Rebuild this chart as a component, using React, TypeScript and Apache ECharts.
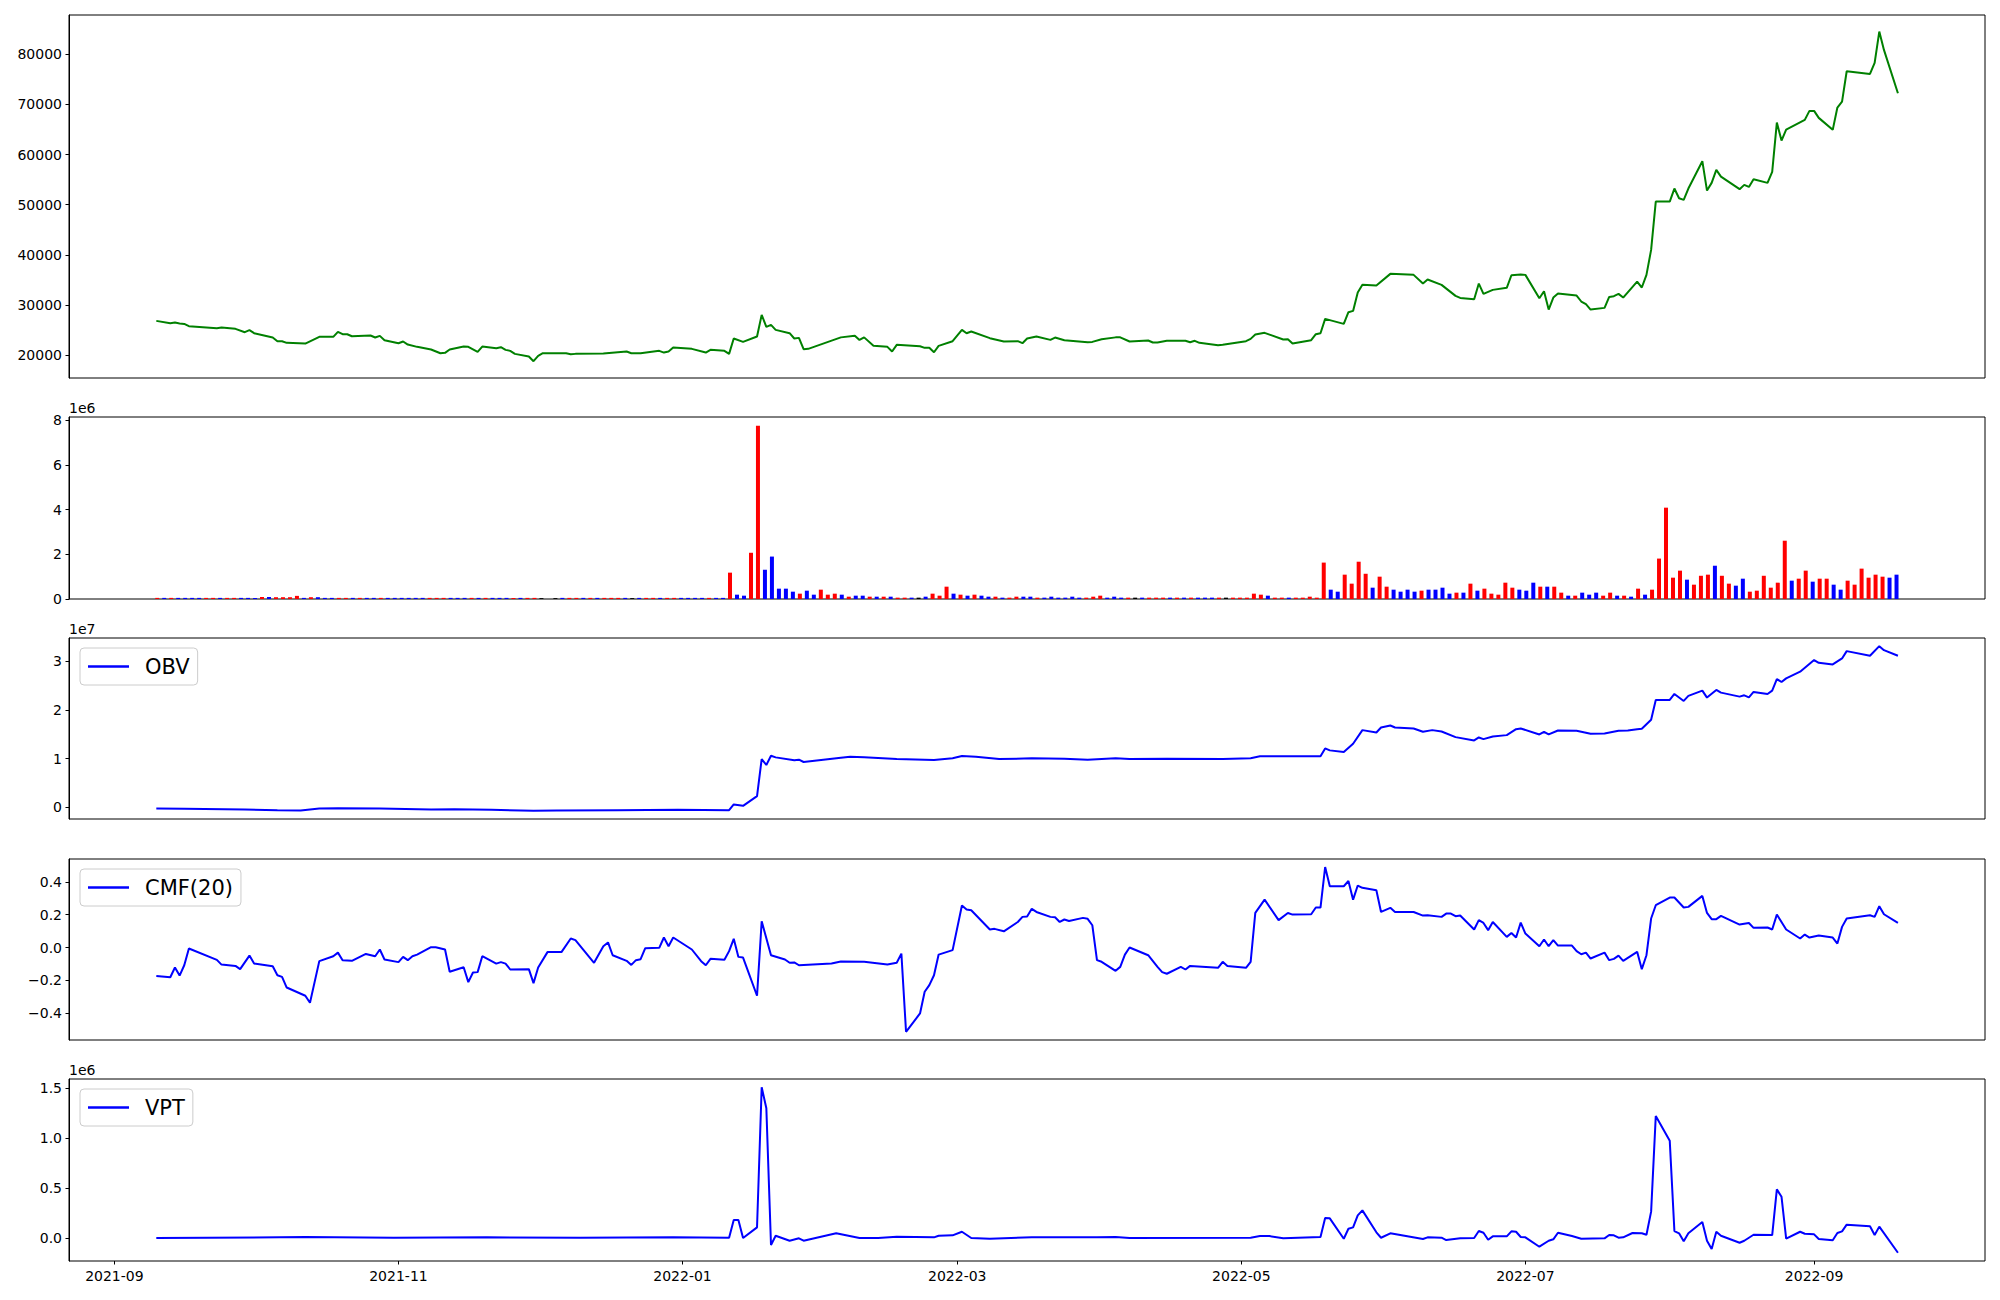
import React, { useEffect, useRef } from "react";
import * as echarts from "echarts";

// x positions are "days since 2021-09-01"
const xTickDay = [0, 61, 122, 181, 242, 303, 365];
const xTickLabel = ["2021-09", "2021-11", "2022-01", "2022-03", "2022-05", "2022-07", "2022-09"];

const priceDay = [9,12,13,14,15,16,22,23,26,28,29,30,34,35,36,37,41,44,47,48,49,50,51,55,56,57,58,61,62,63,65,68,70,71,72,75,76,78,79,82,83,84,85,86,89,90,91,92,97,98,99,105,110,111,113,117,118,119,120,124,127,128,131,132,133,135,138,139,140,141,142,145,146,147,148,149,156,159,160,161,163,166,167,168,173,174,175,176,177,180,182,183,184,188,191,194,195,196,198,201,202,204,209,210,212,215,216,218,222,223,224,226,230,231,232,233,237,238,243,244,245,247,251,252,253,257,258,259,260,264,265,266,267,268,271,274,279,281,282,285,288,289,292,293,294,296,299,300,302,303,306,307,308,309,310,314,315,316,317,320,321,322,323,324,327,328,329,330,331,334,335,336,337,338,341,342,343,344,345,349,350,351,352,355,356,357,358,359,363,364,365,366,369,370,371,372,377,378,379,380,383];
const priceValue = [26840,26370,26500,26310,26240,25790,25380,25510,25250,24580,24980,24380,23520,22790,22790,22460,22320,23650,23650,24650,24180,24180,23780,23920,23520,23850,22990,22390,22720,22120,21660,21130,20390,20460,21130,21720,21660,20660,21720,21390,21590,21060,20860,20260,19730,18800,19870,20390,20390,20190,20260,20330,20720,20390,20390,20860,20520,20730,21520,21260,20530,21060,20860,20260,23320,22650,23720,28035,25640,26040,25045,24380,23320,23450,21190,21260,23550,23890,23030,23550,21890,21660,20730,22060,21790,21460,21460,20590,21860,22790,25050,24380,24710,23390,22720,22790,22390,23320,23720,23050,23520,22990,22590,22650,23180,23550,23550,22720,22920,22520,22520,22860,22860,22590,22860,22460,21990,22060,22790,23250,24120,24450,23120,23180,22320,22990,24180,24380,27240,26240,28570,28830,32490,34020,33880,36210,36010,34280,35080,34020,31820,31420,31160,34280,32220,33020,33420,35940,36080,36010,31360,32750,29100,31490,32290,31890,30700,30170,29100,29430,31620,31760,32220,31490,34680,33490,36010,40990,50630,50630,53220,51290,50960,53220,58670,52820,54350,56940,55610,53090,53950,53550,55080,54350,56540,66380,62790,64980,66910,68700,68700,67310,64920,69370,70560,76610,76080,78270,84520,80860,72220];

// volume bars: evenly spaced from the first to the last day
const volumeFirstDay = 9.2;
const volumeStepDays = 1.5;
const volumeThousands = [
50,50,50,50,50,50,50,50,50,50,
50,50,50,50,50,90,90,80,80,80,
140,50,80,80,50,50,50,50,50,50,
50,50,50,50,50,50,50,50,50,50,
50,50,50,50,50,50,50,50,50,50,
50,50,50,50,50,40,0,40,50,50,
50,50,50,50,50,50,50,50,40,50,
50,50,50,50,50,50,50,50,50,50,
50,50,1180,194,149,2070,7760,1310,1900,463,
463,328,239,373,194,418,194,239,194,104,
149,149,104,104,104,104,60,60,60,60,
104,239,149,552,239,194,149,194,149,104,
104,60,60,104,104,104,60,60,104,60,
60,104,60,60,104,149,60,104,60,60,
60,60,60,60,60,60,60,60,60,60,
60,60,60,60,60,60,60,239,194,149,
60,60,60,60,60,104,60,1630,418,328,
1090,687,1670,1130,507,1000,552,418,328,418,
328,373,418,418,507,239,284,284,687,373,
463,239,194,731,507,418,373,731,552,552,
552,284,149,149,284,194,284,149,284,149,
149,104,463,194,418,1810,4090,955,1270,866,
642,1040,1090,1490,1040,687,597,910,328,373,
1040,507,731,2610,821,910,1270,776,910,910,
642,418,821,642,1360,955,1090,1000,955,1090];
const volumeDir =
  "rbrbbbbrrb" + "rrbbbrbrrr" + "rbrbbbrrbr" + "bbrbbbbbbr" + "rrbbbrbrbb" +
  "brbrrkkkbr" + "rbrbrrrbkb" + "rrbrrbbbbr" + "bbrbbrrbbb" + "bbrbbrrrbr" +
  "bbrbrbrrbk" + "brrrbrbrbb" + "rbrrbbrbbb" + "bbbrrrbbbr" + "kbrrrbrbrb" +
  "bbrkrrrrrb" + "rrbrrrrrbb" + "rrrrbrrbbb" + "brbbbbrbrb" + "rrrrrbbbrb" +
  "rrbrbbbrrb" + "rbrbrrrrrb" + "rrrbrrbbrr" + "rrrrbrrbrr" + "bbrrrrrrbb";
const dirColor: Record<string, string> = { r: "#ff0000", b: "#0000ff", k: "#000000" };

const obvDay = [9,15,28,35,40,44,48,57,68,73,81,90,95,108,121,132,133,135,138,139,140,141,142,146,147,148,156,158,161,168,176,180,182,185,190,197,204,209,215,218,226,238,244,246,259,260,261,264,266,268,271,272,274,275,279,281,283,285,288,292,293,294,296,299,301,302,306,307,308,310,314,317,320,323,325,327,328,330,331,334,335,337,338,341,342,344,345,349,350,351,352,355,356,357,358,359,362,365,366,369,371,372,377,379,380,383];
const obvE7 = [-0.027,-0.034,-0.048,-0.062,-0.068,-0.027,-0.021,-0.027,-0.048,-0.041,-0.055,-0.075,-0.068,-0.062,-0.055,-0.062,0.055,0.027,0.226,0.991,0.868,1.059,1.025,0.964,0.977,0.930,1.018,1.039,1.025,0.991,0.971,1.005,1.053,1.039,0.991,1.005,0.998,0.977,1.005,0.991,0.998,0.991,1.005,1.046,1.046,1.210,1.169,1.135,1.306,1.586,1.538,1.640,1.681,1.640,1.620,1.552,1.586,1.558,1.442,1.374,1.435,1.401,1.456,1.483,1.606,1.620,1.497,1.552,1.497,1.579,1.572,1.511,1.518,1.572,1.579,1.606,1.613,1.798,2.208,2.208,2.331,2.187,2.290,2.399,2.256,2.413,2.358,2.276,2.303,2.262,2.372,2.331,2.399,2.638,2.577,2.652,2.789,3.028,2.973,2.939,3.062,3.213,3.117,3.315,3.233,3.117];

const cmfDay = [9,12,13,14,15,16,22,23,26,27,29,30,34,35,36,37,41,42,44,47,48,49,51,54,56,57,58,61,62,63,64,65,68,69,71,72,75,76,77,78,79,82,83,84,85,89,90,91,93,96,98,99,103,105,106,107,110,111,112,113,114,117,118,119,120,124,126,127,128,131,132,133,134,135,138,139,141,144,145,146,147,154,156,161,166,168,169,170,173,174,175,176,177,180,182,183,184,188,189,191,194,195,196,197,198,201,202,203,204,205,208,209,210,211,212,215,216,217,218,222,224,225,226,229,230,231,237,238,239,243,244,245,247,250,252,253,257,258,259,260,261,264,265,266,267,268,271,272,274,275,279,281,282,285,286,287,288,289,292,293,294,295,296,299,300,301,302,303,306,307,308,309,310,313,314,315,316,317,320,321,322,323,324,327,328,329,330,331,334,335,337,338,341,342,343,344,345,349,351,352,355,356,357,359,362,363,364,366,369,370,371,372,377,378,379,380,383];
const cmfValue = [-0.173,-0.181,-0.122,-0.171,-0.108,-0.006,-0.075,-0.104,-0.112,-0.132,-0.049,-0.098,-0.114,-0.169,-0.179,-0.244,-0.294,-0.337,-0.083,-0.053,-0.031,-0.077,-0.081,-0.039,-0.053,-0.012,-0.073,-0.089,-0.057,-0.077,-0.053,-0.043,0.002,0.002,-0.012,-0.148,-0.120,-0.211,-0.152,-0.150,-0.053,-0.098,-0.089,-0.098,-0.134,-0.132,-0.217,-0.122,-0.028,-0.028,0.055,0.045,-0.093,0.008,0.031,-0.047,-0.081,-0.106,-0.077,-0.071,-0.004,-0.002,0.061,0.008,0.061,-0.012,-0.083,-0.108,-0.069,-0.075,-0.022,0.053,-0.057,-0.061,-0.294,0.160,-0.047,-0.073,-0.093,-0.091,-0.108,-0.098,-0.085,-0.087,-0.104,-0.093,-0.037,-0.514,-0.402,-0.270,-0.229,-0.169,-0.043,-0.016,0.256,0.232,0.227,0.110,0.114,0.099,0.156,0.187,0.189,0.236,0.217,0.187,0.185,0.156,0.171,0.162,0.181,0.175,0.136,-0.077,-0.087,-0.142,-0.118,-0.043,0.000,-0.047,-0.118,-0.150,-0.160,-0.118,-0.134,-0.112,-0.124,-0.087,-0.112,-0.124,-0.087,0.211,0.292,0.167,0.211,0.201,0.203,0.244,0.244,0.491,0.374,0.374,0.406,0.292,0.378,0.364,0.349,0.217,0.242,0.217,0.217,0.195,0.197,0.187,0.207,0.207,0.191,0.195,0.110,0.167,0.150,0.106,0.156,0.065,0.089,0.061,0.152,0.085,0.008,0.049,0.008,0.045,0.012,0.012,-0.022,-0.041,-0.031,-0.067,-0.031,-0.077,-0.069,-0.049,-0.081,-0.026,-0.132,-0.047,0.177,0.258,0.305,0.305,0.244,0.248,0.315,0.211,0.173,0.173,0.193,0.140,0.150,0.120,0.122,0.110,0.201,0.110,0.055,0.079,0.061,0.073,0.061,0.024,0.126,0.177,0.197,0.187,0.252,0.203,0.150];

const vptDay = [9,20,41,60,80,100,120,132,133,134,135,138,139,140,141,142,145,147,148,155,160,164,168,176,177,180,182,184,188,197,211,215,218,244,246,248,251,259,260,261,264,265,266,267,268,271,272,274,281,282,285,286,289,292,293,294,295,296,299,300,301,302,303,306,308,309,310,313,315,320,321,322,323,324,326,328,329,330,331,334,335,336,337,338,341,342,343,344,345,349,350,352,356,357,358,359,362,363,365,366,369,370,371,372,377,378,379,383];
const vptE6 = [0,0.003,0.010,0.003,0.007,0.003,0.007,0.003,0.180,0.180,0,0.107,1.509,1.299,-0.070,0.023,-0.027,-0.003,-0.027,0.047,0,0,0.013,0.007,0.023,0.027,0.063,0,-0.007,0.007,0.007,0.010,0,0.003,0.020,0.020,-0.003,0.010,0.200,0.197,-0.007,0.093,0.107,0.227,0.277,0.057,0.003,0.047,-0.010,0.007,0.003,-0.020,-0.003,0,0.070,0.053,-0.017,0.017,0.017,0.067,0.063,0.010,0.007,-0.087,-0.027,-0.013,0.053,0.020,-0.007,-0.003,0.030,0.027,0.003,0.007,0.050,0.047,0.033,0.264,1.222,0.975,0.070,0.047,-0.033,0.047,0.160,-0.027,-0.110,0.063,0.023,-0.047,-0.027,0.033,0.030,0.487,0.414,-0.007,0.063,0.043,0.037,-0.010,-0.023,0.050,0.067,0.134,0.117,0.030,0.114,-0.147];

const priceTicks = [20000, 30000, 40000, 50000, 60000, 70000, 80000];
const volumeTicks = [0, 2e6, 4e6, 6e6, 8e6];
const obvTicks = [0, 1e7, 2e7, 3e7];
const cmfTicks = [-0.4, -0.2, 0, 0.2, 0.4];
const vptTicks = [0, 0.5e6, 1e6, 1.5e6];

const FONT = "DejaVu Sans";
const X_MIN = -9.75;
const X_MAX = 401.7;
const GRID_LEFT = 69;
const GRID_WIDTH = 1916;
const GRIDS = [
  { top: 15, height: 363 },
  { top: 417, height: 182 },
  { top: 638, height: 181 },
  { top: 859, height: 181 },
  { top: 1079, height: 182 },
];

const pairs = (xs: number[], ys: number[], k: number) => xs.map((x, i) => [x, ys[i] * k]);
const minus = (s: string) => s.replace("-", "\u2212");

export default function App() {
  const ref = useRef<HTMLDivElement>(null);
  useEffect(() => {
    if (!ref.current) return;
    const chart = echarts.init(ref.current, null, { renderer: "svg" });

    const yDefs = [
      { min: 15450, max: 87820, ticks: priceTicks, fmt: (v: number) => String(Math.round(v)) },
      { min: 0, max: 8.15e6, ticks: volumeTicks, fmt: (v: number) => String(Math.round(v / 1e6)) },
      { min: -0.244e7, max: 3.483e7, ticks: obvTicks, fmt: (v: number) => String(Math.round(v / 1e7)) },
      { min: -0.564, max: 0.54, ticks: cmfTicks, fmt: (v: number) => minus(v.toFixed(1)) },
      { min: -0.23e6, max: 1.592e6, ticks: vptTicks, fmt: (v: number) => (v / 1e6).toFixed(1) },
    ];

    const labelStyle = { fontSize: 14, fontFamily: FONT, color: "#000" };

    const legendBase = {
      orient: "horizontal",
      left: 80,
      icon: "rect",
      itemWidth: 41,
      itemHeight: 2.5,
      padding: [8, 8, 8, 8],
      backgroundColor: "rgba(255,255,255,0.8)",
      borderColor: "#cccccc",
      borderWidth: 1,
      borderRadius: 4,
      selectedMode: false,
      textStyle: { fontSize: 21, fontFamily: FONT, color: "#000", lineHeight: 21, padding: [0, 0, 0, 11] },
    };

    const option: any = {
      animation: false,
      backgroundColor: "#ffffff",
      grid: GRIDS.map((g) => ({
        left: GRID_LEFT,
        width: GRID_WIDTH,
        top: g.top,
        height: g.height,
        show: true,
        borderColor: "#000",
        borderWidth: 1,
        backgroundColor: "transparent",
        containLabel: false,
      })),
      xAxis: GRIDS.map((_, i) => ({
        type: "value",
        gridIndex: i,
        min: X_MIN,
        max: X_MAX,
        show: i === 4,
        position: "bottom",
        splitLine: { show: false },
        axisLine: { show: false, onZero: false },
        axisTick: {
          show: i === 4,
          customValues: xTickDay,
          length: 3.5,
          lineStyle: { color: "#000", width: 1 },
        },
        axisLabel: {
          show: i === 4,
          customValues: xTickDay,
          margin: 8,
          ...labelStyle,
          formatter: (v: number) => {
            const k = xTickDay.indexOf(Math.round(v));
            return k >= 0 ? xTickLabel[k] : "";
          },
        },
      })),
      yAxis: yDefs.map((d, i) => ({
        type: "value",
        gridIndex: i,
        min: d.min,
        max: d.max,
        position: "left",
        splitLine: { show: false },
        axisLine: { show: true, onZero: false, lineStyle: { color: "#000", width: 1 } },
        axisTick: {
          show: true,
          inside: false,
          length: 3.5,
          customValues: d.ticks,
          lineStyle: { color: "#000", width: 1 },
        },
        axisLabel: {
          show: true,
          customValues: d.ticks,
          margin: 7,
          ...labelStyle,
          formatter: d.fmt,
        },
      })),
      legend: [
        { ...legendBase, data: ["OBV"], top: 648 },
        { ...legendBase, data: ["CMF(20)"], top: 869 },
        { ...legendBase, data: ["VPT"], top: 1089 },
      ],
      graphic: [
        { type: "text", x: 69, y: 415, style: { text: "1e6", fontSize: 14, fontFamily: FONT, fill: "#000", verticalAlign: "bottom" } },
        { type: "text", x: 69, y: 636, style: { text: "1e7", fontSize: 14, fontFamily: FONT, fill: "#000", verticalAlign: "bottom" } },
        { type: "text", x: 69, y: 1077, style: { text: "1e6", fontSize: 14, fontFamily: FONT, fill: "#000", verticalAlign: "bottom" } },
      ],
      series: [
        {
          name: "Close",
          type: "line",
          xAxisIndex: 0,
          yAxisIndex: 0,
          data: pairs(priceDay, priceValue, 1),
          showSymbol: false,
          symbol: "none",
          color: "#008000",
          lineStyle: { color: "#008000", width: 2 },
        },
        {
          name: "Volume",
          type: "bar",
          xAxisIndex: 1,
          yAxisIndex: 1,
          barWidth: 4,
          data: volumeThousands.map((v, i) => ({
            value: [volumeFirstDay + i * volumeStepDays, v * 1000],
            itemStyle: { color: dirColor[volumeDir[i]] },
          })),
        },
        {
          name: "OBV",
          type: "line",
          xAxisIndex: 2,
          yAxisIndex: 2,
          data: pairs(obvDay, obvE7, 1e7),
          showSymbol: false,
          symbol: "none",
          color: "#0000ff",
          itemStyle: { color: "#0000ff" },
          lineStyle: { color: "#0000ff", width: 2 },
        },
        {
          name: "CMF(20)",
          type: "line",
          xAxisIndex: 3,
          yAxisIndex: 3,
          data: pairs(cmfDay, cmfValue, 1),
          showSymbol: false,
          symbol: "none",
          color: "#0000ff",
          itemStyle: { color: "#0000ff" },
          lineStyle: { color: "#0000ff", width: 2 },
        },
        {
          name: "VPT",
          type: "line",
          xAxisIndex: 4,
          yAxisIndex: 4,
          data: pairs(vptDay, vptE6, 1e6),
          showSymbol: false,
          symbol: "none",
          color: "#0000ff",
          itemStyle: { color: "#0000ff" },
          lineStyle: { color: "#0000ff", width: 2 },
        },
      ],
    };

    chart.setOption(option);
    return () => chart.dispose();
  }, []);

  return (
    <div
      ref={ref}
      style={{ position: "absolute", left: 0, top: 0, width: 2000, height: 1300, background: "#ffffff" }}
    />
  );
}
